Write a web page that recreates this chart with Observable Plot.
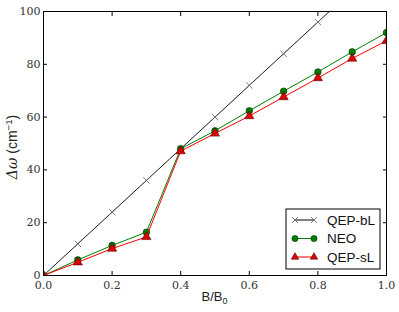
<!DOCTYPE html>
<html>
<head>
<meta charset="utf-8">
<script src="https://cdn.jsdelivr.net/npm/d3@7"></script>
<script src="https://cdn.jsdelivr.net/npm/@observablehq/plot@0.6"></script>
<style>
  html, body { margin: 0; padding: 0; background: #fff; }
  #chart svg { display: block; }
</style>
</head>
<body>
<div id="chart"></div>
<script>
const ratio = [0, 0.1, 0.2, 0.3, 0.4, 0.5, 0.6, 0.7, 0.8, 0.9, 1.0];
const qepBL = [0, 12, 24, 36, 48, 60, 72, 84, 96, 108, 120];
const neo   = [0, 5.9, 11.4, 16.4, 48.0, 54.8, 62.4, 69.8, 77.1, 84.7, 92.0];
const qepSL = [0, 5.0, 10.2, 14.6, 47.1, 53.8, 60.4, 67.6, 74.8, 82.2, 88.9];
const xTicks = [0, 0.2, 0.4, 0.6, 0.8, 1.0];
const yTicks = [0, 20, 40, 60, 80, 100];
const seriesNames = ["QEP-bL", "NEO", "QEP-sL"];

const rows = (vals) => ratio.map((x, i) => ({x, y: vals[i]}));
const bl = rows(qepBL), ne = rows(neo), sl = rows(qepSL);

const serif = "DejaVu Serif";
const sans = "Liberation Sans";

const plot = Plot.plot({
  width: 399,
  height: 312,
  marginLeft: 43,
  marginRight: 13,
  marginTop: 11,
  marginBottom: 37,
  style: {background: "#fff"},
  x: {domain: [0, 1], ticks: xTicks, label: null},
  y: {domain: [0, 100], ticks: yTicks, label: null},
  marks: [
    Plot.axisX({anchor: "bottom", ticks: xTicks, tickSize: -4, tickPadding: 10, tickFormat: d3.format(".1f"), label: null, stroke: "#000", fontFamily: serif, fontSize: 11, fill: "#333"}),
    Plot.axisX({anchor: "top", ticks: xTicks, tickSize: -4, tickFormat: () => "", label: null, stroke: "#000"}),
    Plot.axisY({anchor: "left", ticks: yTicks, tickSize: -4, tickPadding: 7, tickFormat: d3.format("d"), label: null, stroke: "#000", fontFamily: serif, fontSize: 11, fill: "#333"}),
    Plot.axisY({anchor: "right", ticks: yTicks, tickSize: -4, tickFormat: () => "", label: null, stroke: "#000"}),
    Plot.line(bl, {x: "x", y: "y", stroke: "#000", strokeWidth: 0.9, clip: true}),
    Plot.dot(bl, {x: "x", y: "y", symbol: "times", r: 3, stroke: "#666", strokeWidth: 0.9, clip: true}),
    Plot.line(ne, {x: "x", y: "y", stroke: "#008000", strokeWidth: 1, clip: true}),
    Plot.dot(ne, {x: "x", y: "y", symbol: "circle", r: 3.3, fill: "#008000", stroke: "#003300", strokeWidth: 0.6, clip: true}),
    Plot.line(sl, {x: "x", y: "y", stroke: "#ff0000", strokeWidth: 1, clip: true}),
    Plot.dot(sl, {x: "x", y: "y", symbol: "triangle", r: 3.4, fill: "#dd0000", stroke: "#550000", strokeWidth: 0.6, clip: true}),
    Plot.frame({stroke: "#000", strokeWidth: 1})
  ]
});

document.getElementById("chart").appendChild(plot);

const svg = d3.select(plot);
svg.selectAll('g[aria-label$="tick label"] text')
  .attr("font-family", serif)
  .style("font-family", serif);

const xs = plot.scale("x");
const pLeft = xs.range[0], pRight = xs.range[1];

// Axis labels
const yl = svg.append("text")
  .attr("transform", `translate(17,147) rotate(-90)`)
  .attr("text-anchor", "middle")
  .attr("fill", "#222")
  .style("font-size", "14px");
yl.append("tspan").attr("font-family", serif).attr("font-style", "italic").style("font-family", serif).text("Δω");
yl.append("tspan").attr("font-family", sans).style("font-family", sans).text(" (cm");
yl.append("tspan").attr("font-family", sans).style("font-family", sans).attr("font-size", "9.5px").attr("dy", "-5.5").text("−1");
yl.append("tspan").attr("font-family", sans).style("font-family", sans).attr("dy", "5.5").text(")");

const xl = svg.append("text")
  .attr("x", (pLeft + pRight) / 2)
  .attr("y", 301)
  .attr("text-anchor", "middle")
  .attr("fill", "#222")
  .style("font-family", sans)
  .style("font-size", "13px");
xl.append("tspan").text("B/B");
xl.append("tspan").attr("font-size", "9px").attr("dy", "3").text("0");

// Legend
const lg = svg.append("g");
const lx = 286, ly = 209, lw = 94, lh = 60;
lg.append("rect").attr("x", lx).attr("y", ly).attr("width", lw).attr("height", lh)
  .attr("fill", "#fff").attr("stroke", "#000").attr("stroke-width", 1);
const entries = [
  {name: seriesNames[0], color: "#000", sym: d3.symbolTimes, fill: "none", mstroke: "#666", size: 24},
  {name: seriesNames[1], color: "#008000", sym: d3.symbolCircle, fill: "#008000", mstroke: "#003300", size: 30},
  {name: seriesNames[2], color: "#ff0000", sym: d3.symbolTriangle, fill: "#dd0000", mstroke: "#550000", size: 24}
];
entries.forEach((e, i) => {
  const cy = 220 + i * 18.5;
  lg.append("line").attr("x1", 295).attr("x2", 314).attr("y1", cy).attr("y2", cy)
    .attr("stroke", e.color).attr("stroke-width", 1);
  [295, 314].forEach(cx => {
    lg.append("path").attr("d", d3.symbol(e.sym, e.size)())
      .attr("transform", `translate(${cx},${cy})`)
      .attr("fill", e.fill).attr("stroke", e.mstroke).attr("stroke-width", e.fill === "none" ? 0.9 : 0.6);
  });
  lg.append("text").attr("x", 327).attr("y", cy).attr("dy", "0.35em")
    .attr("text-anchor", "start")
    .style("font-family", sans).style("font-size", "13.5px").attr("fill", "#111")
    .text(e.name);
});
</script>
</body>
</html>
